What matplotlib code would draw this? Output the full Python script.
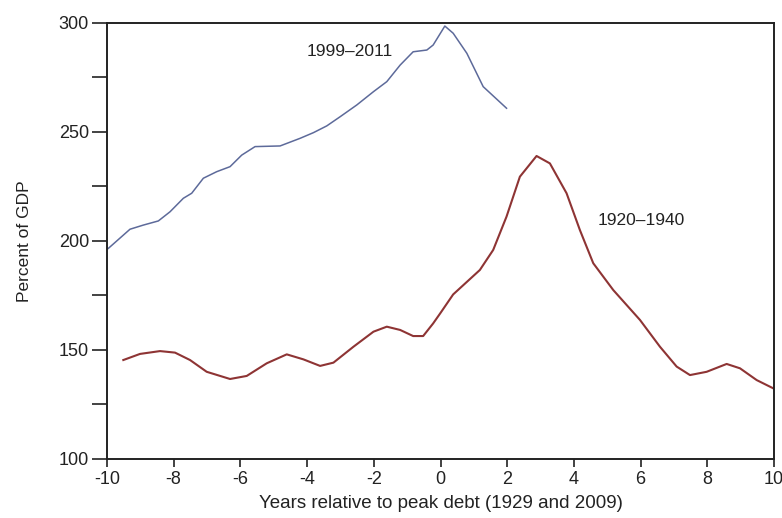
import matplotlib.pyplot as plt
import numpy as np

plt.rcParams['font.family'] = ['Liberation Sans', 'DejaVu Sans']
plt.rcParams['axes.unicode_minus'] = False

# 1999-2011 (blue)
years_recent = [-9.96, -9.31, -8.91, -8.46, -8.11, -7.71, -7.46, -7.11, -6.71, -6.31,
                -5.96, -5.56, -4.81, -4.21, -3.81, -3.41, -3.01, -2.51, -2.01, -1.61,
                -1.21, -0.82, -0.41, -0.22, 0.13, 0.38, 0.79, 1.28, 1.98]
debt_recent = [196.6, 205.4, 207.3, 209.2, 213.4, 219.6, 221.9, 228.8, 231.8, 234.1,
               239.4, 243.3, 243.6, 247.1, 249.7, 252.8, 257.0, 262.4, 268.5, 273.1,
               280.7, 286.8, 287.6, 289.9, 298.6, 295.3, 286.1, 270.8, 260.9]

# 1920-1940 (red)
years_past = [-9.51, -9.01, -8.41, -7.96, -7.51, -7.01, -6.31, -5.81, -5.21, -4.61,
              -4.11, -3.61, -3.21, -2.61, -2.01, -1.61, -1.21, -0.82, -0.52, -0.22,
              0.0, 0.38, 1.18, 1.58, 1.98, 2.38, 2.88, 3.28, 3.78, 4.18, 4.58, 5.18,
              5.98, 6.58, 7.08, 7.48, 7.98, 8.58, 8.98, 9.48, 9.98]
debt_past = [145.4, 148.2, 149.5, 148.8, 145.4, 140.0, 136.7, 138.1, 143.9, 148.0,
             145.7, 142.7, 144.2, 151.5, 158.4, 160.7, 159.2, 156.4, 156.4, 162.2,
             167.0, 175.5, 186.7, 195.9, 211.2, 229.5, 239.0, 235.6, 221.9, 205.0, 189.8, 177.5,
             163.8, 151.5, 142.4, 138.5, 140.0, 143.6, 141.6, 136.2, 132.4]

fig = plt.figure(figsize=(7.82, 5.18), dpi=100)
ax = fig.add_axes([0.1368, 0.1139, 0.8530, 0.8417])

ax.plot(years_recent, debt_recent, color='#5d6a9a', lw=1.1)
ax.plot(years_past, debt_past, color='#8e3434', lw=1.5)

ax.text(-2.71, 286.8, '1999\u20132011', fontsize=12.5, color='#222222', ha='center', va='center')
ax.text(6.01, 209.6, '1920\u20131940', fontsize=12.5, color='#222222', ha='center', va='center')

ax.set_xlim(-10, 10)
ax.set_ylim(100, 300)
ax.set_xticks(np.arange(-10, 11, 2))
ax.set_yticks([100, 150, 200, 250, 300])
ax.set_yticks([125, 175, 225, 275], minor=True)
ax.tick_params(axis='x', direction='out', length=6, width=1.2, labelsize=13, pad=3, colors='#222222')
ax.tick_params(axis='y', which='both', direction='out', length=11, width=1.2, labelsize=13, pad=2, colors='#222222')

for s in ax.spines.values():
    s.set_linewidth(1.4)
    s.set_color('#222222')

ax.set_xlabel('Years relative to peak debt (1929 and 2009)', fontsize=13.5, color='#222222', labelpad=5)
ax.set_ylabel('Percent of GDP', fontsize=12.5, color='#222222', labelpad=19)

fig.savefig('out.png', dpi=100)
